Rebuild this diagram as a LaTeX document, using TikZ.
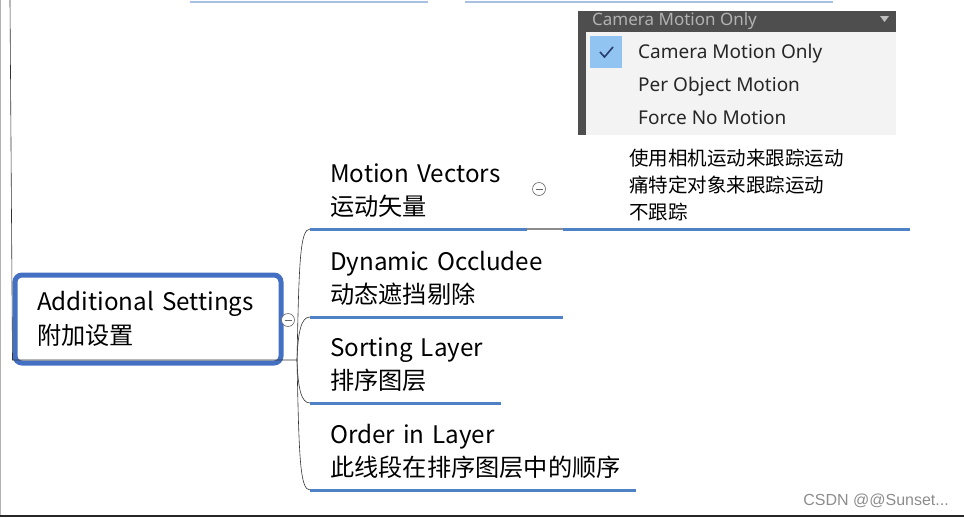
\documentclass[tikz,border=0pt]{standalone}
\usepackage{fontspec}
\setmainfont{Noto Sans CJK SC}
\newfontfamily\uifont{Noto Sans}
\newfontfamily\markfont{Liberation Sans}
\definecolor{mapblue}{RGB}{79,129,198}
\definecolor{rootblue}{RGB}{68,112,196}
\definecolor{paleblue}{RGB}{170,192,226}
\definecolor{menudark}{RGB}{78,78,78}
\definecolor{menulight}{RGB}{243,243,243}
\definecolor{checkblue}{RGB}{145,196,240}
\definecolor{checknavy}{RGB}{40,60,110}

\begin{document}
\begin{tikzpicture}[x=1pt,y=-1pt]
\tikzstyle{root}=[draw=rootblue,line width=5pt,rounded corners=7pt,minimum width=266pt,minimum height=88pt,text width=222pt,inner xsep=22pt,align=left,font=\fontsize{24.2}{33.5}\selectfont]
\tikzstyle{child}=[anchor=south west,inner xsep=20pt,inner ysep=11pt,align=left,font=\fontsize{24.2}{33.5}\selectfont]
\tikzstyle{uline}=[mapblue,line width=3pt]
\tikzstyle{branch}=[black!80,line width=0.6pt]
\tikzstyle{fold}=[draw=black!60,fill=white,circle,inner sep=0pt,minimum size=13pt,line width=0.6pt,
  path picture={\draw[black!60,line width=0.6pt] ([xshift=-3.5pt]path picture bounding box.center) -- ([xshift=3.5pt]path picture bounding box.center);}]
\tikzstyle{item}=[anchor=base west,inner sep=0pt,text=black!85,font=\uifont\fontsize{19}{21}\selectfont]
\useasboundingbox (0,0) rectangle (964,517);
\draw[black!30,line width=1pt] (0.5,0) -- (0.5,517);
\draw[black!85,line width=2pt] (0,516) -- (964,516);
\draw[paleblue,line width=2pt] (190,2) -- (428,2) (465,2) -- (833,2);
\fill[menudark] (578,11) rectangle (896,135);
\fill[menulight] (586,32) rectangle (896,135);
\node[anchor=base west,inner sep=0pt,text=black!30,font=\uifont\fontsize{17}{19}\selectfont] (head) at (592,25) {Camera Motion Only};
\fill[black!25] (880,16) -- (889,16) -- (884.5,22) -- cycle;
\fill[checkblue] (590,36) rectangle (622,68);
\draw[checknavy,line width=1.6pt] (600,52) -- (604.5,57) -- (613,47);
\node[item] (cam) at (638,58) {Camera Motion Only};
\node[item] (per) at (638,91) {Per Object Motion};
\node[item] (force) at (638,124) {Force No Motion};
\node[root] (add) at (148,319) {Additional Settings\\附加设置};
\coordinate (up) at (10,0);
\coordinate (hub) at (297,360);
\node[child,text width=177pt] (mv) at (310,229) {Motion Vectors\\运动矢量};
\node[child,text width=213pt] (dyn) at (310,317) {Dynamic Occludee\\动态遮挡剔除};
\node[child,text width=151pt] (sort) at (310,403) {Sorting~Layer\\排序图层};
\node[child,text width=286pt] (order) at (310,490) {Order in Layer\\此线段在排序图层中的顺序};
\node[child,minimum width=347pt,inner xsep=0pt,inner ysep=8pt,font=\fontsize{19.5}{27}\selectfont] (mode) at (563,229) {使用相机运动来跟踪运动\\痛特定对象来跟踪运动\\不跟踪};
\draw[branch] (up) -- (add.south west |- hub) -- (hub);
\draw[branch] (hub) .. controls (299,262) and (300,229) .. (mv.south west);
\draw[branch] (hub) .. controls (298,332) and (301,317) .. (dyn.south west);
\draw[branch] (hub) .. controls (298,388) and (301,403) .. (sort.south west);
\draw[branch] (hub) .. controls (299,458) and (300,490) .. (order.south west);
\draw[black!45,line width=1.5pt] (mv.south east) -- (mode.south west);
\foreach \n in {mv,dyn,sort,order,mode}
  \draw[uline] (\n.south west) -- (\n.south east);
\node[fold] (addfold) at (288,320) {};
\node[fold] (mvfold) at (539,189) {};
\node[anchor=east,inner sep=0pt,text=black!45,font=\markfont\fontsize{16}{18}\selectfont] (mark) at (949,501) {CSDN @@Sunset...};
\end{tikzpicture}
\end{document}
